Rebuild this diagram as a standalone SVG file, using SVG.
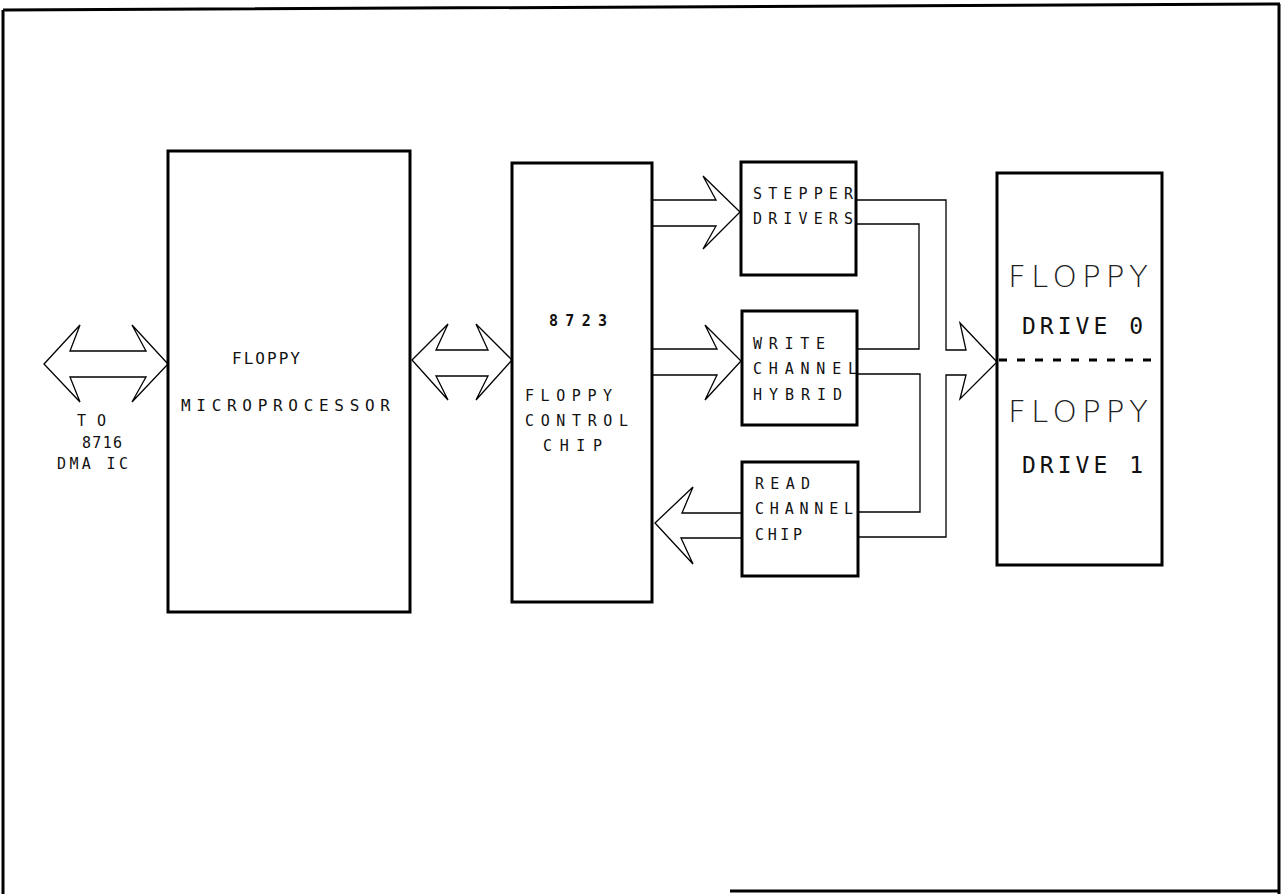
<svg xmlns="http://www.w3.org/2000/svg" width="1284" height="894" viewBox="0 0 1284 894">
<style>
.frame{fill:none;stroke:#000;stroke-width:3}
.box{fill:#fff;stroke:#000;stroke-width:3}
.arr{fill:#fff;stroke:#000;stroke-width:1.3;stroke-linejoin:miter}
.ln{fill:none;stroke:#000;stroke-width:1.3}
.t{font-family:"DejaVu Sans Mono","Liberation Mono",monospace;font-size:15px;fill:#111}
.tm{font-family:"DejaVu Sans Mono","Liberation Mono",monospace;font-size:16px;fill:#111}
.tb{font-family:"DejaVu Sans Mono","Liberation Mono",monospace;font-size:15px;font-weight:bold;fill:#111}
.tl{font-family:"DejaVu Sans","Liberation Sans",sans-serif;font-weight:200;font-size:31px;fill:#222}
.td{font-family:"DejaVu Sans Mono","Liberation Mono",monospace;font-size:23px;fill:#111}
.dash{stroke:#000;stroke-width:3;stroke-dasharray:8 10}
</style>
<rect width="1284" height="894" fill="#fff"/>
<g id="frame">
<path class="frame" d="M3,10 L1280,4 M3,10 L3,894 M1279,4 L1279,894 M730,891 L1280,891"/>
</g>
<g id="connectors">
<polygon class="arr" points="44,364 80,325 70,351 146,351 132,325 168,364 132,402 146,377 70,377 80,402"/>
<polygon class="arr" points="412,360 448,324 436,350 488,350 476,324 512,360 476,400 488,376 436,376 448,400"/>
<polyline class="arr" points="653,200 716,200 703,176 740,212 703,249 716,226 653,226"/>
<polyline class="arr" points="653,349 717,349 705,325 741,361 705,400 717,375 653,375"/>
<polyline class="arr" points="742,513 682,513 693,487 655,523 693,564 681,538 742,538"/>
<polyline class="ln" points="856,200 946,200 946,350 966,350 960,323 997,362 960,399 966,375 946,375 946,537 858,537"/>
<polyline class="ln" points="856,224 919,224 919,349 857,349"/>
<polyline class="ln" points="857,374 920,374 920,512 858,512"/>
</g>
<g id="dma">
<text class="t" x="77" y="426" textLength="29" lengthAdjust="spacing">TO</text>
<text class="t" x="82" y="448" textLength="40" lengthAdjust="spacing">8716</text>
<text class="t" x="57" y="469" textLength="71" lengthAdjust="spacing">DMA IC</text>
</g>
<g id="microprocessor">
<rect class="box" x="168" y="151" width="242" height="461"/>
<text class="tm" x="232" y="364" textLength="68" lengthAdjust="spacing">FLOPPY</text>
<text class="tm" x="181" y="411" textLength="209" lengthAdjust="spacing">MICROPROCESSOR</text>
</g>
<g id="control-chip">
<rect class="box" x="512" y="163" width="140" height="439"/>
<text class="tb" x="549" y="326" textLength="58" lengthAdjust="spacing">8723</text>
<text class="t" x="525" y="401" textLength="87" lengthAdjust="spacing">FLOPPY</text>
<text class="t" x="525" y="426" textLength="103" lengthAdjust="spacing">CONTROL</text>
<text class="t" x="543" y="451" textLength="59" lengthAdjust="spacing">CHIP</text>
</g>
<g id="stepper">
<rect class="box" x="741" y="162" width="115" height="113"/>
<text class="t" x="753" y="199" textLength="100" lengthAdjust="spacing">STEPPER</text>
<text class="t" x="753" y="224" textLength="100" lengthAdjust="spacing">DRIVERS</text>
</g>
<g id="write">
<rect class="box" x="742" y="311" width="115" height="114"/>
<text class="t" x="753" y="349" textLength="72" lengthAdjust="spacing">WRITE</text>
<text class="t" x="753" y="374" textLength="104" lengthAdjust="spacing">CHANNEL</text>
<text class="t" x="753" y="400" textLength="89" lengthAdjust="spacing">HYBRID</text>
</g>
<g id="read">
<rect class="box" x="742" y="462" width="116" height="114"/>
<text class="t" x="755" y="489" textLength="55" lengthAdjust="spacing">READ</text>
<text class="t" x="755" y="514" textLength="98" lengthAdjust="spacing">CHANNEL</text>
<text class="t" x="755" y="540" textLength="47" lengthAdjust="spacing">CHIP</text>
</g>
<g id="drives">
<rect class="box" x="997" y="173" width="165" height="392"/>
<line class="dash" x1="999" y1="360" x2="1160" y2="360"/>
<text class="tl" x="1008" y="287" textLength="140" lengthAdjust="spacing">FLOPPY</text>
<text class="td" x="1022" y="334" textLength="121" lengthAdjust="spacing">DRIVE 0</text>
<text class="tl" x="1008" y="422" textLength="140" lengthAdjust="spacing">FLOPPY</text>
<text class="td" x="1022" y="473" textLength="121" lengthAdjust="spacing">DRIVE 1</text>
</g>
</svg>
